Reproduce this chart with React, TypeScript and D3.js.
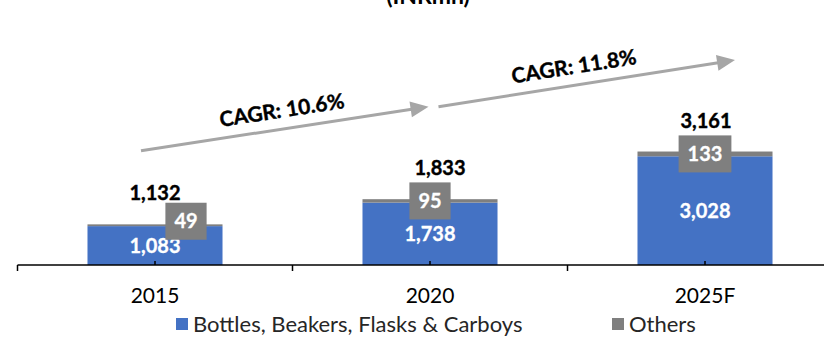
import React from 'react';
import * as d3 from 'd3';

// Market size by product type (INRmn)
const categories: string[] = ['2015', '2020', '2025F'];
const bottlesSeries: number[] = [1083, 1738, 3028];
const othersSeries: number[] = [49, 95, 133];
const seriesNames: string[] = ['Bottles, Beakers, Flasks & Carboys', 'Others'];
const cagrLabels: string[] = ['CAGR: 10.6%', 'CAGR: 11.8%'];
const title = '(INRmn)';

const W = 824;
const H = 341;
const FONT = 'Lato, "Open Sans", "Liberation Sans", sans-serif';
const BLUE = '#4472C4';
const GREY = '#7F7F7F';
const ARROW = '#A6A6A6';

// layout
const axisY = 265;
const x = d3
  .scaleBand<string>()
  .domain(categories)
  .range([17.5, 842.5])
  .paddingInner(0.509)
  .paddingOuter(0.2545);
const y = d3.scaleLinear().domain([0, 3500]).range([axisY, axisY - 3500 * 0.0359]);

const bw = x.bandwidth();
const step = x.step();
const cx = (c: string) => (x(c) as number) + bw / 2;

// small nudges for label placement
const othersNudge: Record<string, [number, number]> = { '2015': [31, -4] };
const totalNudge: Record<string, number> = { '2020': 10, '2025F': 1 };

// CAGR arrows: from one category towards the next
const arrows = [
  { from: categories[0], to: categories[1], x0: -14, x1: -1.5, y0: 150.7, y1: 106.7, shift: 0 },
  { from: categories[1], to: categories[2], x0: 8.5, x1: 30, y0: 106.7, y1: 60, shift: -10 },
];

export default function App() {
  const stackData = categories.map((c, i) => ({
    cat: c,
    bottles: bottlesSeries[i],
    others: othersSeries[i],
  }));
  const stacked = d3.stack<any>().keys(['bottles', 'others'])(stackData);
  const colors = [BLUE, GREY];

  const boundaries = [...categories.map((c) => (x(c) as number) - (step - bw) / 2), 842.5];

  return (
    <svg
      width={W}
      height={H}
      style={{ position: 'absolute', left: 0, top: 0, display: 'block', background: '#fff' }}
      fontFamily={FONT}
    >
      <text x={428} y={4} textAnchor="middle" fontSize={23} fontWeight="bold" fill="#000">
        {title}
      </text>

      {/* stacked bars */}
      {stacked.map((layer, li) =>
        layer.map((d, i) => (
          <rect
            key={`${li}-${i}`}
            x={x(categories[i])}
            y={y(d[1])}
            width={bw}
            height={y(d[0]) - y(d[1])}
            fill={colors[li]}
          />
        ))
      )}

      {/* axis */}
      <line x1={17.5} x2={W} y1={axisY} y2={axisY} stroke="#000" strokeWidth={1.5} />
      {boundaries.map((b, i) => (
        <line key={`b${i}`} x1={b} x2={b} y1={axisY} y2={axisY + 6} stroke="#000" strokeWidth={1.5} />
      ))}
      {categories.map((c) => (
        <line key={`t${c}`} x1={cx(c)} x2={cx(c)} y1={axisY} y2={axisY - 4} stroke="#000" strokeWidth={1.5} />
      ))}
      {categories.map((c) => (
        <text key={`l${c}`} x={cx(c)} y={303} textAnchor="middle" fontSize={21} fill="#000">
          {c}
        </text>
      ))}

      {/* bottles labels */}
      {stacked[0].map((d, i) => (
        <text
          key={`bl${i}`}
          x={cx(categories[i])}
          y={(y(d[0]) + y(d[1])) / 2}
          dy="0.36em"
          textAnchor="middle"
          fontSize={20}
          fontWeight="bold"
          fill="#fff"
          stroke="#fff"
          strokeWidth={0.3}
        >
          {d3.format(',')(bottlesSeries[i])}
        </text>
      ))}

      {/* others labels in boxes */}
      {stacked[1].map((d, i) => {
        const c = categories[i];
        const [nx, ny] = othersNudge[c] || [0, 0];
        const lx = cx(c) + nx;
        const ly = (y(d[0]) + y(d[1])) / 2 + ny;
        const label = String(othersSeries[i]);
        const tw = label.length * 11.6;
        const bwBox = tw + 18;
        const bh = 37;
        return (
          <g key={`ol${i}`}>
            <rect x={lx - bwBox / 2} y={ly - bh / 2} width={bwBox} height={bh} fill={GREY} />
            <text
              x={lx}
              y={ly}
              dy="0.36em"
              textAnchor="middle"
              fontSize={20}
              fontWeight="bold"
              fill="#fff"
              stroke="#fff"
              strokeWidth={0.3}
            >
              {label}
            </text>
          </g>
        );
      })}

      {/* totals */}
      {stacked[1].map((d, i) => (
        <text
          key={`tt${i}`}
          x={cx(categories[i]) + (totalNudge[categories[i]] || 0)}
          y={y(d[1]) - 24}
          textAnchor="middle"
          fontSize={20}
          fontWeight="bold"
          fill="#000"
          stroke="#000"
          strokeWidth={0.4}
        >
          {d3.format(',')(d[1])}
        </text>
      ))}

      {/* CAGR arrows */}
      {arrows.map((a, i) => {
        const x0 = cx(a.from) + a.x0;
        const x1 = cx(a.to) + a.x1;
        const ang = Math.atan2(a.y1 - a.y0, x1 - x0);
        const deg = (ang * 180) / Math.PI;
        const len = Math.hypot(x1 - x0, a.y1 - a.y0);
        const headL = 18;
        const headW = 8;
        const mx = (x0 + x1) / 2;
        const my = (a.y0 + a.y1) / 2;
        return (
          <g key={`a${i}`}>
            <g transform={`translate(${x0},${a.y0}) rotate(${deg})`}>
              <line x1={0} y1={0} x2={len - headL + 1} y2={0} stroke={ARROW} strokeWidth={3} />
              <path d={`M${len},0 L${len - headL},${-headW} L${len - headL},${headW} Z`} fill={ARROW} />
            </g>
            <g transform={`translate(${mx},${my}) rotate(${deg}) translate(${a.shift},-19)`}>
              <text
                x={0}
                y={0}
                dy="0.36em"
                textAnchor="middle"
                fontSize={21}
                fontWeight="bold"
                fill="#000"
                stroke="#000"
                strokeWidth={0.4}
              >
                {cagrLabels[i]}
              </text>
            </g>
          </g>
        );
      })}

      {/* legend */}
      <g fontSize={22} fill="#262626">
        <rect x={176} y={318} width={12} height={12} fill={BLUE} />
        <text x={193} y={332}>{seriesNames[0]}</text>
        <rect x={612} y={318} width={12} height={12} fill={GREY} />
        <text x={629} y={332}>{seriesNames[1]}</text>
      </g>
    </svg>
  );
}
